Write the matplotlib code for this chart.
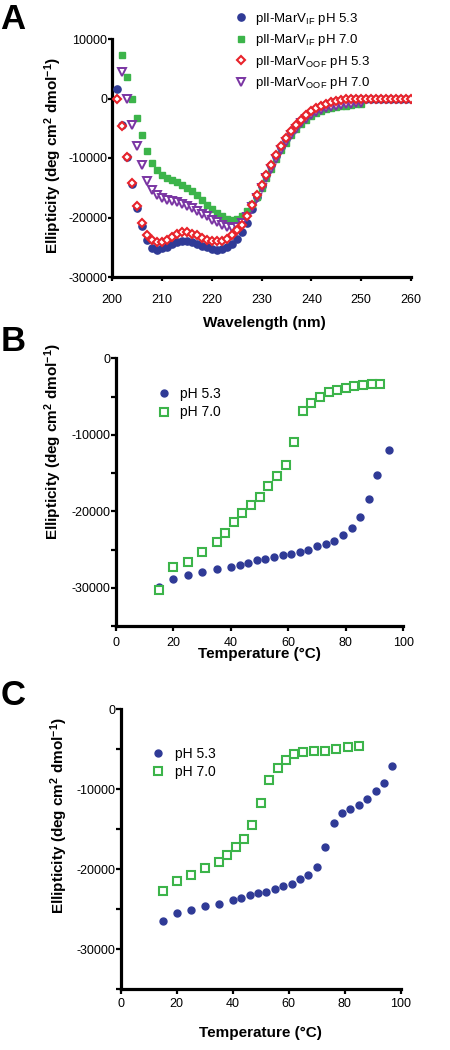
import numpy as np
import matplotlib
matplotlib.use("Agg")
import matplotlib.pyplot as plt

plt.rcParams['font.family'] = ['Liberation Sans', 'DejaVu Sans']
plt.rcParams['mathtext.fontset'] = 'custom'
plt.rcParams['mathtext.rm'] = 'Liberation Sans'
plt.rcParams['mathtext.bf'] = 'Liberation Sans:bold'
plt.rcParams['mathtext.it'] = 'Liberation Sans:italic'
plt.rcParams['axes.unicode_minus'] = False

# ---------------- Panel A data (CD spectra) ----------------
wl_full = list(range(201, 261))
wl_short = list(range(202, 251))

if_53 = [1600, -4400, -9800, -14300, -18400, -21500, -23700, -25100, -25400, -25200,
         -24900, -24500, -24200, -24000, -24000, -24200, -24500, -24800, -25000, -25300,
         -25400, -25300, -25000, -24500, -23600, -22400, -21000, -18600, -16500, -14700,
         -12900, -11200, -9600, -8100, -6800, -5600, -4600, -3700, -2900, -2200,
         -1700, -1300, -950, -700, -500, -350, -250, -150, -80, -30,
         0, 0, 0, 0, 0, 0, 0, 0, 0, 0]
oof_53 = [0, -4700, -9800, -14200, -18000, -20900, -22900, -23700, -24200, -24100,
          -23700, -23200, -22800, -22500, -22500, -22700, -23000, -23400, -23700, -24000,
          -24000, -23900, -23600, -23000, -22100, -21200, -19700, -17900, -16200, -14500,
          -12800, -11100, -9500, -8000, -6700, -5500, -4500, -3600, -2800, -2100,
          -1600, -1200, -850, -600, -400, -250, -150, -80, -30, 0,
          0, 0, 0, 0, 0, 0, 0, 0, 0, 0]
if_70 = [7300, 3600, 0, -3200, -6100, -8800, -10800, -12000, -12800,
         -13300, -13700, -14100, -14500, -15000, -15600, -16200, -17000, -17900, -18600,
         -19300, -19800, -20200, -20400, -20200, -19700, -18900, -17800, -16500, -15000,
         -13400, -11800, -10200, -8700, -7400, -6200, -5200, -4300, -3600, -3000,
         -2500, -2100, -1800, -1600, -1400, -1300, -1200, -1100, -1000, -900]
oof_70 = [4500, -100, -4400, -8000, -11100, -13800, -15400, -16200, -16700,
          -17000, -17200, -17400, -17700, -18000, -18400, -18900, -19400, -19800, -20400,
          -20800, -21200, -21600, -21800, -21600, -21000, -19900, -18300, -16700, -15100,
          -13400, -11800, -10200, -8700, -7300, -6100, -5100, -4200, -3400, -2800,
          -2300, -1900, -1600, -1400, -1200, -1100, -1000, -900, -800, -700]

labels_A = [r"pII-MarV$_{\mathregular{IF}}$ pH 5.3",
            r"pII-MarV$_{\mathregular{IF}}$ pH 7.0",
            r"pII-MarV$_{\mathregular{OOF}}$ pH 5.3",
            r"pII-MarV$_{\mathregular{OOF}}$ pH 7.0"]

# ---------------- Panel B data (thermal melt) ----------------
tB_53 = [15, 20, 25, 30, 35, 40, 43, 46, 49, 52, 55, 58, 61, 64, 67, 70, 73, 76, 79, 82, 85, 88, 91, 95]
eB_53 = [-29900, -28900, -28350, -27900, -27600, -27300, -27040, -26780, -26400, -26260,
         -26040, -25780, -25570, -25350, -25090, -24570, -24260, -23910, -23130, -22220,
         -20780, -18430, -15220, -12040]
tB_70 = [15, 20, 25, 30, 35, 38, 41, 44, 47, 50, 53, 56, 59, 62, 65, 68, 71, 74, 77, 80, 83, 86, 89, 92]
eB_70 = [-30350, -27350, -26610, -25350, -24040, -22780, -21390, -20220, -19220, -18130,
         -16740, -15430, -14000, -10910, -6910, -5830, -5000, -4430, -4090, -3830,
         -3610, -3520, -3390, -3350]

# ---------------- Panel C data (thermal melt) ----------------
tC_53 = [15, 20, 25, 30, 35, 40, 43, 46, 49, 52, 55, 58, 61, 64, 67, 70, 73, 76, 79, 82, 85, 88, 91, 94, 97]
eC_53 = [-26430, -25430, -25090, -24630, -24300, -23840, -23630, -23260, -22960, -22800,
         -22460, -22130, -21840, -21210, -20670, -19710, -17240, -14280, -13030, -12530,
         -11940, -11190, -10230, -9270, -7060]
tC_70 = [15, 20, 25, 30, 35, 38, 41, 44, 47, 50, 53, 56, 59, 62, 65, 69, 73, 77, 81, 85]
eC_70 = [-22760, -21500, -20790, -19830, -19160, -18200, -17290, -16200, -14490, -11690,
         -8810, -7310, -6390, -5640, -5390, -5260, -5220, -5010, -4800, -4680]

labels_T = ["pH 5.3", "pH 7.0"]

BLUE = '#2f3a96'
GREEN = '#3cb44a'
RED = '#e8232b'
PURPLE = '#7a35a3'

W, H = 450, 1050
fig = plt.figure(figsize=(W / 100, H / 100), dpi=100)


def axes_px(left, right, top, bottom):
    return fig.add_axes([left / W, 1 - bottom / H, (right - left) / W, (bottom - top) / H])


def style(ax, xpad, ypad, ticklen):
    for s in ['top', 'right']:
        ax.spines[s].set_visible(False)
    for s in ['left', 'bottom']:
        ax.spines[s].set_linewidth(2.3)
        ax.spines[s].set_color('black')
    ax.tick_params(axis='both', which='major', direction='out', length=ticklen, width=1.6,
                   labelsize=9, color='black')
    ax.tick_params(axis='x', pad=xpad)
    ax.tick_params(axis='y', pad=ypad)
    ax.tick_params(axis='y', which='minor', direction='out', length=ticklen, width=1.6)


ylabel_txt = r"Ellipticity (deg cm$^{\mathbf{2}}$ dmol$^{\mathbf{-1}}$)"

# ---------------- Panel A ----------------
axA = axes_px(112, 411, 39, 277)
axA.plot(wl_full, if_53, 'o', ms=5.2, color=BLUE, mec=BLUE, label=labels_A[0], zorder=3)
axA.plot(wl_short, if_70, 's', ms=5, color=GREEN, mec=GREEN, label=labels_A[1], zorder=4)
axA.plot(wl_full, oof_53, 'D', ms=4.4, mfc='white', mec=RED, mew=1.5, label=labels_A[2], zorder=6)
axA.plot(wl_short, oof_70, 'v', ms=5.5, mfc='white', mec=PURPLE, mew=1.4, label=labels_A[3], zorder=5)
axA.set_xlim(200, 260)
axA.set_ylim(-30000, 10000)
axA.set_xticks(range(200, 261, 10))
axA.set_yticks(range(-30000, 10001, 10000))
style(axA, 9, 0.5, 3)
axA.set_xlabel("Wavelength (nm)", fontsize=11, fontweight='bold', va='center')
axA.xaxis.set_label_coords(0.51, -0.193)
axA.set_ylabel(ylabel_txt, fontsize=11, fontweight='bold', va='center')
axA.yaxis.set_label_coords(-0.197, 0.51)
legA = axA.legend(loc='center left', bbox_to_anchor=(234 / W, 1 - 51 / H),
                  bbox_transform=fig.transFigure, frameon=False, fontsize=9.5,
                  handlelength=1.0, handletextpad=0.6, labelspacing=0.42, borderpad=0,
                  borderaxespad=0)

# ---------------- Panel B ----------------
axB = axes_px(116, 403.3, 358.3, 626)
axB.plot(tB_53, eB_53, 'o', ms=5, color=BLUE, mec=BLUE, label=labels_T[0])
axB.plot(tB_70, eB_70, 's', ms=6, mfc='white', mec=GREEN, mew=1.5, label=labels_T[1])
axB.set_xlim(0, 100)
axB.set_ylim(-35000, 0)
axB.set_xticks(range(0, 101, 20))
axB.set_yticks(range(-30000, 1, 10000))
axB.set_yticks(range(-35000, 1, 5000), minor=True)
axB.yaxis.set_minor_formatter(plt.NullFormatter())
style(axB, 4.5, 0.5, 3.6)
axB.set_xlabel("Temperature (°C)", fontsize=11, fontweight='bold', va='center')
axB.xaxis.set_label_coords(0.5, -0.105)
axB.set_ylabel(ylabel_txt, fontsize=11, fontweight='bold', va='center')
axB.yaxis.set_label_coords(-0.219, 0.69)
axB.legend(loc='center left', bbox_to_anchor=(157 / W, 1 - 403.3 / H),
           bbox_transform=fig.transFigure, frameon=False, fontsize=10,
           handlelength=1.0, handletextpad=0.65, labelspacing=0.3, borderpad=0,
           borderaxespad=0)

# ---------------- Panel C ----------------
axC = axes_px(120.7, 400.7, 709, 989.3)
axC.plot(tC_53, eC_53, 'o', ms=5, color=BLUE, mec=BLUE, label=labels_T[0])
axC.plot(tC_70, eC_70, 's', ms=6, mfc='white', mec=GREEN, mew=1.5, label=labels_T[1])
axC.set_xlim(0, 100)
axC.set_ylim(-35000, 0)
axC.set_xticks(range(0, 101, 20))
axC.set_yticks(range(-30000, 1, 10000))
axC.set_yticks(range(-35000, 1, 5000), minor=True)
axC.yaxis.set_minor_formatter(plt.NullFormatter())
style(axC, 2.5, 0.5, 3.6)
axC.set_xlabel("Temperature (°C)", fontsize=11, fontweight='bold', va='center')
axC.xaxis.set_label_coords(0.5, -0.156)
axC.set_ylabel(ylabel_txt, fontsize=11, fontweight='bold', va='center')
axC.yaxis.set_label_coords(-0.22, 0.62)
axC.legend(loc='center left', bbox_to_anchor=(151 / W, 1 - 762.7 / H),
           bbox_transform=fig.transFigure, frameon=False, fontsize=10,
           handlelength=1.0, handletextpad=0.75, labelspacing=0.3, borderpad=0,
           borderaxespad=0)

# Panel letters
for letter, ytop in [("A", 3), ("B", 325), ("C", 679)]:
    fig.text(0.5 / W, 1 - ytop / H, letter, fontsize=25, fontweight='bold', va='top', ha='left')

fig.savefig("out.png", dpi=100, facecolor='white')
